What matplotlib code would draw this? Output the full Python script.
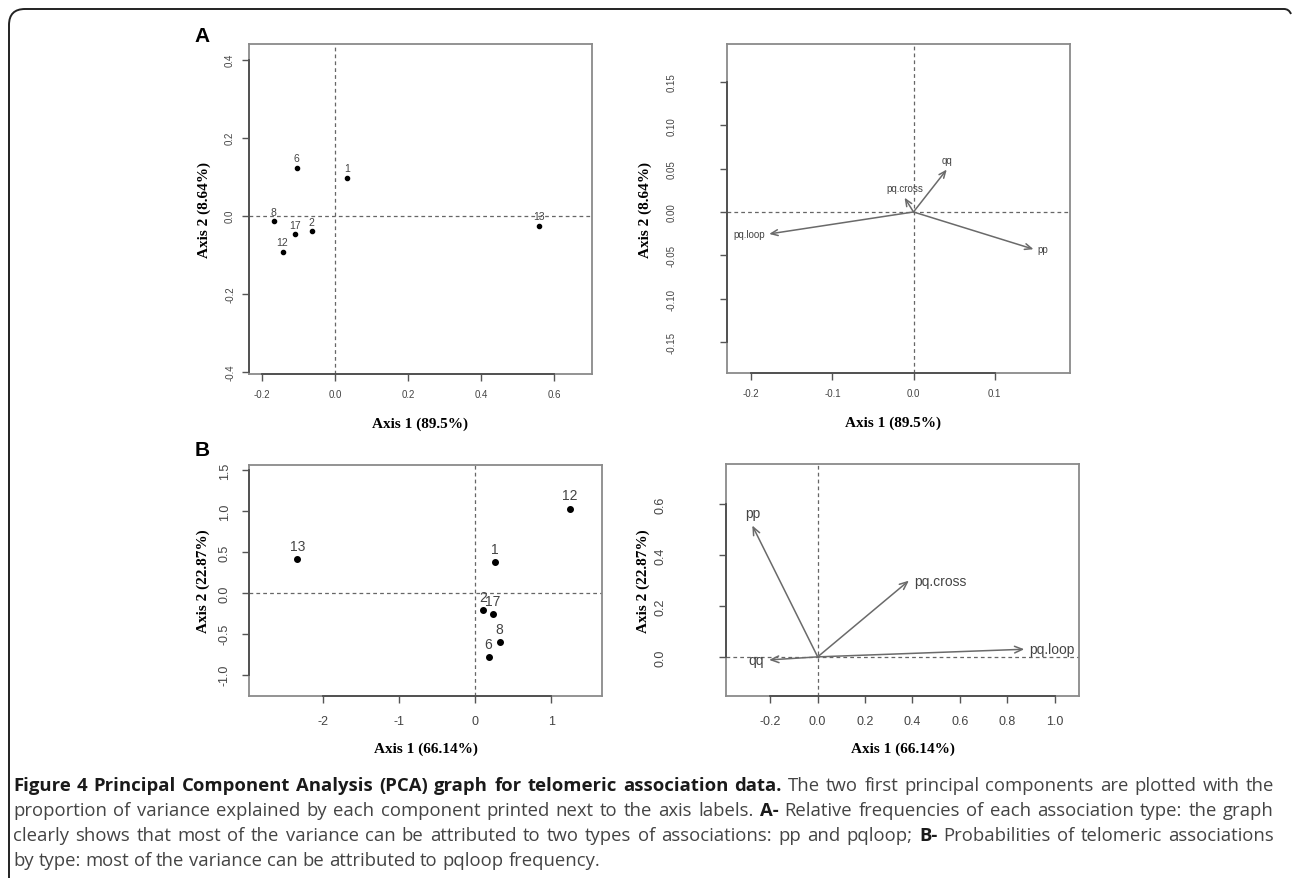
import matplotlib
matplotlib.use("Agg")
import matplotlib.pyplot as plt
from matplotlib.path import Path
from matplotlib.patches import PathPatch

plt.rcParams['axes.unicode_minus'] = False

W, H = 1292, 879

# ---- data ----
# A: relative frequencies
a_ids = ["6", "1", "8", "17", "2", "12", "13"]
a_x = [-0.105, 0.032, -0.168, -0.110, -0.064, -0.144, 0.558]
a_y = [0.122, 0.097, -0.015, -0.048, -0.040, -0.092, -0.026]

a_vars = ["qq", "pq.cross", "pq.loop", "pp"]
a_vx = [0.041, -0.011, -0.178, 0.148]
a_vy = [0.049, 0.0165, -0.0254, -0.043]
a_vpos = ["top", "top", "left", "right"]

# B: probabilities
b_ids = ["12", "13", "1", "2", "17", "8", "6"]
b_x = [1.238, -2.332, 0.254, 0.100, 0.232, 0.320, 0.175]
b_y = [1.028, 0.411, 0.378, -0.207, -0.264, -0.598, -0.789]

b_vars = ["pp", "pq.cross", "pq.loop", "qq"]
b_vx = [-0.276, 0.385, 0.872, -0.205]
b_vy = [0.517, 0.300, 0.030, -0.012]
b_vpos = ["top", "right", "right", "left"]

a_xlab, a_ylab = "Axis 1 (89.5%)", "Axis 2 (8.64%)"
b_xlab, b_ylab = "Axis 1 (66.14%)", "Axis 2 (22.87%)"

caption = [
    [("Figure 4 Principal Component Analysis (PCA) graph for telomeric association data.", "bold"),
     ("The two first principal components are plotted with the", "normal")],
    [("proportion of variance explained by each component printed next to the axis labels.", "normal"),
     ("A-", "bold"),
     ("Relative frequencies of each association type: the graph", "normal")],
    [("clearly shows that most of the variance can be attributed to two types of associations: pp and pqloop;", "normal"),
     ("B-", "bold"),
     ("Probabilities of telomeric associations", "normal")],
    [("by type: most of the variance can be attributed to pqloop frequency.", "normal")],
]

fig = plt.figure(figsize=(W / 100, H / 100), dpi=100)


def px_axes(x0, y0, x1, y1):
    return fig.add_axes([x0 / W, 1 - y1 / H, (x1 - x0) / W, (y1 - y0) / H])


def style_axes(ax, xticks, xlabels, yticks, ylabels, tsize, xpad, ypad):
    for s in ax.spines.values():
        s.set_color("#8a8a8a")
        s.set_linewidth(1.3)
    ax.set_xticks(xticks)
    ax.set_xticklabels(xlabels)
    ax.set_yticks(yticks)
    ax.set_yticklabels(ylabels, rotation=90, va="center")
    ax.tick_params(axis="both", direction="out", length=5, width=1, color="#555555",
                   labelcolor="#444444", labelsize=tsize)
    ax.tick_params(axis="x", pad=xpad)
    ax.tick_params(axis="y", pad=ypad)
    for lab in ax.get_xticklabels() + ax.get_yticklabels():
        lab.set_family("Liberation Sans")
    # R draws the axis line only between first and last tick
    ax.plot([xticks[0], xticks[-1]], [0, 0], transform=ax.get_xaxis_transform(),
            color="#4d4d4d", lw=1.3, clip_on=False, zorder=5)
    ax.plot([0, 0], [yticks[0], yticks[-1]], transform=ax.get_yaxis_transform(),
            color="#4d4d4d", lw=1.3, clip_on=False, zorder=5)
    ax.axhline(0, color="#666666", lw=0.9, ls=(0, (3, 2.5)), zorder=1)
    ax.axvline(0, color="#666666", lw=0.9, ls=(0, (3, 2.5)), zorder=1)


def axis_labels(ax, xl, yl, xly, ylx, xlx=0.5):
    ax.set_xlabel(xl, family="Liberation Serif", weight="bold", fontsize=11)
    ax.set_ylabel(yl, family="Liberation Serif", weight="bold", fontsize=11)
    ax.xaxis.set_label_coords(xlx, xly)
    ax.yaxis.set_label_coords(ylx, 0.5)


def points(ax, xs, ys, ids, msize, fsize, off):
    ax.plot(xs, ys, "o", color="black", ms=msize, zorder=4)
    for x, y, t in zip(xs, ys, ids):
        ax.annotate(t, (x, y), xytext=(0, off), textcoords="offset points",
                    ha="center", va="center", fontsize=fsize, color="#444444",
                    family="Liberation Sans")


def arrows(ax, xs, ys, names, pos, fsize, off, mscale):
    for x, y, n, p in zip(xs, ys, names, pos):
        ax.annotate("", xy=(x, y), xytext=(0, 0),
                    arrowprops=dict(arrowstyle="->,head_length=0.7,head_width=0.3",
                                    color="#6a6a6a", lw=1.1,
                                    shrinkA=0, shrinkB=0, mutation_scale=mscale))
        if p == "top":
            dx, dy, ha = 0, off, "center"
        elif p == "left":
            dx, dy, ha = -off * 0.4, 0, "right"
        else:
            dx, dy, ha = off * 0.4, 0, "left"
        ax.annotate(n, (x, y), xytext=(dx, dy), textcoords="offset points",
                    ha=ha, va="center", fontsize=fsize, color="#444444",
                    family="Liberation Sans")


# ---- A left ----
ax1 = px_axes(249, 45, 592, 375)
ax1.set_xlim(-0.236, 0.704)
ax1.set_ylim(-0.406, 0.44)
style_axes(ax1, [-0.2, 0.0, 0.2, 0.4, 0.6], ["-0.2", "0.0", "0.2", "0.4", "0.6"],
           [-0.4, -0.2, 0.0, 0.2, 0.4], ["-0.4", "-0.2", "0.0", "0.2", "0.4"], 7, 6, 5)
points(ax1, a_x, a_y, a_ids, 3, 7.5, 7)
axis_labels(ax1, a_xlab, a_ylab, -0.128, -0.111)

# ---- A right ----
ax2 = px_axes(727, 45, 1070, 374)
ax2.set_xlim(-0.230, 0.193)
ax2.set_ylim(-0.186, 0.194)
style_axes(ax2, [-0.2, -0.1, 0.0, 0.1], ["-0.2", "-0.1", "0.0", "0.1"],
           [-0.15, -0.10, -0.05, 0.0, 0.05, 0.10, 0.15],
           ["-0.15", "-0.10", "-0.05", "0.00", "0.05", "0.10", "0.15"], 7, 6, 31)
arrows(ax2, a_vx, a_vy, a_vars, a_vpos, 7, 7, 7)
axis_labels(ax2, a_xlab, a_ylab, -0.128, -0.219, 0.485)

# ---- B left ----
ax3 = px_axes(249, 466, 602, 697)
ax3.set_xlim(-2.966, 1.663)
ax3.set_ylim(-1.26, 1.561)
style_axes(ax3, [-2, -1, 0, 1], ["-2", "-1", "0", "1"],
           [-1.0, -0.5, 0.0, 0.5, 1.0, 1.5], ["-1.0", "-0.5", "0.0", "0.5", "1.0", "1.5"], 9, 9, 8)
points(ax3, b_x, b_y, b_ids, 4, 10, 9.5)
axis_labels(ax3, b_xlab, b_ylab, -0.195, -0.110)

# ---- B right ----
ax4 = px_axes(726, 465, 1079, 697)
ax4.set_xlim(-0.387, 1.103)
ax4.set_ylim(-0.154, 0.759)
style_axes(ax4, [-0.2, 0.0, 0.2, 0.4, 0.6, 0.8, 1.0],
           ["-0.2", "0.0", "0.2", "0.4", "0.6", "0.8", "1.0"],
           [0.0, 0.2, 0.4, 0.6], ["0.0", "0.2", "0.4", "0.6"], 9, 9, 38)
arrows(ax4, b_vx, b_vy, b_vars, b_vpos, 10, 9, 8)
axis_labels(ax4, b_xlab, b_ylab, -0.195, -0.215)

# panel letters
fig.text(202 / W, 1 - 36 / H, "A", family="Liberation Sans", weight="bold",
         fontsize=15, ha="center", va="center")
fig.text(202 / W, 1 - 451 / H, "B", family="Liberation Sans", weight="bold",
         fontsize=15, ha="center", va="center")

# border: left side and top edge with rounded corners
verts = [(9, H), (9, 26), (9, 10), (25, 10), (1284, 10), (1289, 10), (1291, 15)]
codes = [Path.MOVETO, Path.LINETO, Path.CURVE3, Path.CURVE3, Path.LINETO,
         Path.CURVE3, Path.CURVE3]
verts = [(x / W, 1 - y / H) for x, y in verts]
fig.patches.append(PathPatch(Path(verts, codes), transform=fig.transFigure,
                             fill=False, edgecolor="#222222", lw=1.4))

# caption, justified like the journal layout
cap_font, cap_size = "Open Sans", 13.3
fig.canvas.draw()
renderer = fig.canvas.get_renderer()


def tw(s, weight):
    t = fig.text(0, 0, s, family=cap_font, fontsize=cap_size, weight=weight)
    w = t.get_window_extent(renderer).width
    t.remove()
    return w


space_w = tw("a a", "normal") - tw("aa", "normal")
x_left, x_right = 13, 1274
baselines = [791, 816, 841, 866]
for i, line in enumerate(caption):
    words = [(w, wt) for seg, wt in line for w in seg.split()]
    widths = [tw(w, wt) for w, wt in words]
    if i < len(caption) - 1:
        gap = max((x_right - x_left - sum(widths)) / (len(words) - 1), space_w * 0.6)
    else:
        gap = space_w
    x = x_left
    for (w, wt), wd in zip(words, widths):
        fig.text(x / W, 1 - baselines[i] / H, w, family=cap_font, fontsize=cap_size,
                 weight=wt, color="#1a1a1a" if wt == "bold" else "#444444",
                 ha="left", va="baseline")
        x += wd + gap

fig.savefig("out.png", dpi=100)
